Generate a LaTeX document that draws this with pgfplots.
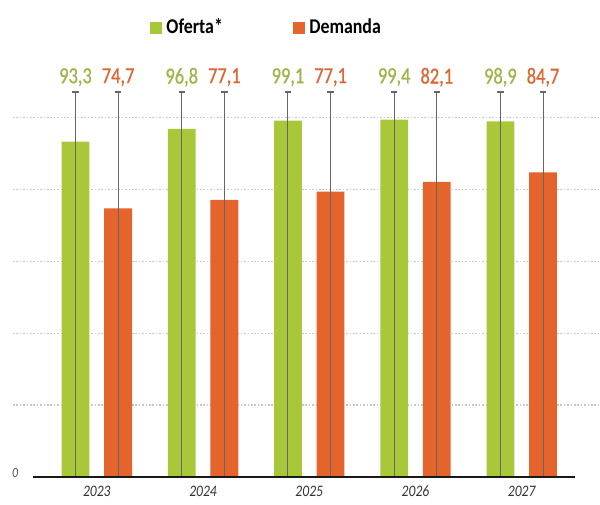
\documentclass[border=0pt]{standalone}
\usepackage{fontspec}
\setmainfont{Carlito}[FakeStretch=0.85]
\newfontfamily\labfont{Carlito}[FakeStretch=0.8, FakeBold=0.8]
\usepackage{pgfplots}
\usepackage{pgfplotstable}
\pgfplotsset{compat=1.18}
\definecolor{ofe}{HTML}{A8C83A}
\definecolor{dem}{HTML}{E4642B}
\definecolor{ofetxt}{HTML}{A3B24A}
\definecolor{demtxt}{HTML}{DC6634}
\pgfplotstableread{
x xo xd oferta demanda lo ld ly top
0 -0.2006 0.2006 93.3 74.7 93,3 74,7 111.2 107
1 0.7994 1.2006 96.8 77.1 96,8 77,1 111.2 107
2 1.7994 2.2006 99.1 79.4 99,1 77,1 111.2 107
3 2.7994 3.2006 99.4 82.1 99,4 82,1 111.2 107
4 3.7994 4.2006 98.9 84.7 98,9 84,7 111.2 107
}\datatable
\begin{document}
\begin{tikzpicture}
\begin{axis}[
  scale only axis,
  width=292.5pt, height=233.7pt,
  xmin=-0.789, xmax=4.718,
  ymin=0, ymax=130,
  axis line style={draw=none},
  tick style={draw=none},
  xtick={0,1,2,3,4},
  xticklabels={2023,2024,2025,2026,2027},
  xticklabel style={font=\fontsize{8}{9}\selectfont\itshape, text=black!80, yshift=-1pt},
  ytick={20,40,60,80,100},
  yticklabels={},
  ymajorgrids,
  grid style={black!22, line width=0.6pt, dash pattern=on 0.8pt off 0.9pt},
  clip=false,
  legend columns=2,
  legend style={draw=none, fill=none, at={(0.435,0.9607)}, anchor=center,
    font=\fontsize{10.5}{12}\selectfont\bfseries,
    /tikz/every even column/.append style={column sep=33pt},
    inner sep=0pt},
  legend image code/.code={\fill (0pt,-3pt) rectangle (6.2pt,3.2pt);},
]
\addplot[ybar, bar width=13.9pt, bar shift=0pt, fill=ofe, draw=none] table[x=xo, y=oferta]{\datatable};
\addlegendentry{Oferta*}
\addplot[ybar, bar width=13.9pt, bar shift=0pt, fill=dem, draw=none] table[x=xd, y=demanda]{\datatable};
\addlegendentry{Demanda}
\addplot[forget plot, ycomb, black!60, line width=0.5pt, mark=-, mark size=1.6pt, mark options={line width=0.8pt}] table[x=xo, y=top]{\datatable};
\addplot[forget plot, ycomb, black!60, line width=0.5pt, mark=-, mark size=1.6pt, mark options={line width=0.8pt}] table[x=xd, y=top]{\datatable};
\addplot[forget plot, draw=none, mark=none, nodes near coords, point meta=explicit symbolic,
  nodes near coords align={center},
  every node near coord/.append style={font=\labfont\fontsize{11.5}{13}\selectfont, text=ofetxt}]
  table[x=xo, y=ly, meta=lo]{\datatable};
\addplot[forget plot, draw=none, mark=none, nodes near coords, point meta=explicit symbolic,
  nodes near coords align={center},
  every node near coord/.append style={font=\labfont\fontsize{11.5}{13}\selectfont, text=demtxt}]
  table[x=xd, y=ly, meta=ld]{\datatable};
\addplot[forget plot, black!90, line width=1pt] coordinates {(-0.601,0) (4.502,0)};
\node[font=\fontsize{7}{8}\selectfont\itshape, text=black!70] at (axis cs:-0.768,1) {0};
\end{axis}
\pgfresetboundingbox
\path (-6.5pt,-13.5pt) rectangle (293.5pt,238.5pt);
\end{tikzpicture}
\end{document}
